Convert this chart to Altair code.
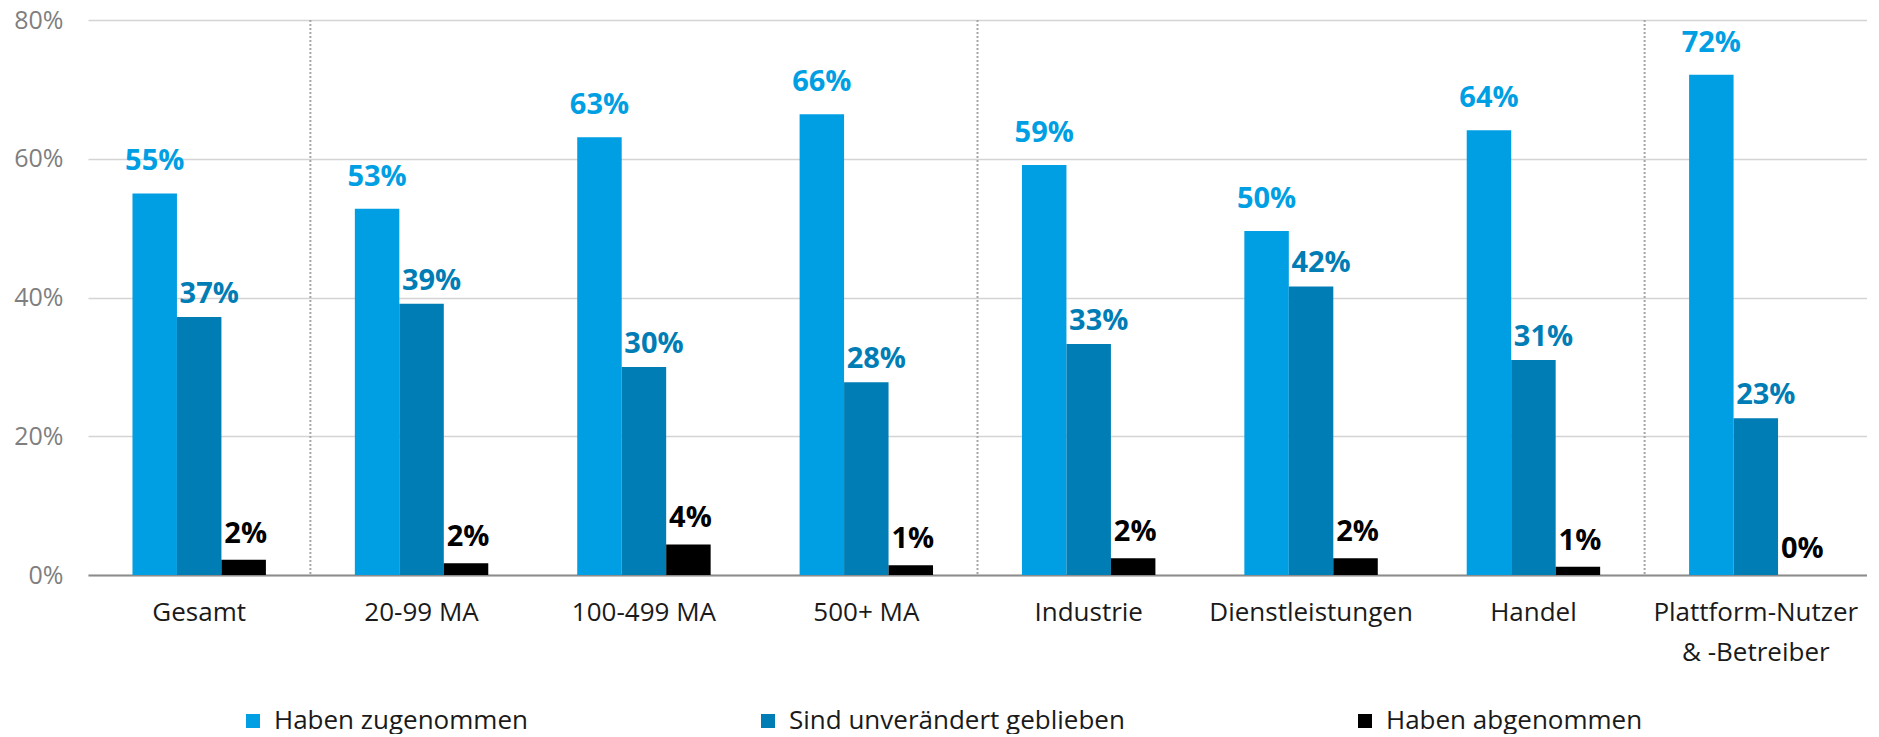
import altair as alt
import pandas as pd

categories = ["Gesamt", "20-99 MA", "100-499 MA", "500+ MA", "Industrie",
              "Dienstleistungen", "Handel", "Plattform-Nutzer\n& -Betreiber"]
series = ["Haben zugenommen", "Sind unverändert geblieben", "Haben abgenommen"]
zugenommen = [55.0, 52.8, 63.1, 66.4, 59.1, 49.6, 64.1, 72.1]
unveraendert = [37.2, 39.1, 30.0, 27.8, 33.3, 41.6, 31.0, 22.6]
abgenommen = [2.2, 1.7, 4.4, 1.4, 2.4, 2.4, 1.2, 0.0]
separators = ["20-99 MA", "Industrie", "Plattform-Nutzer\n& -Betreiber"]
colors = ["#009FE3", "#007DB5", "#000000"]
y_ticks = [0, 0.2, 0.4, 0.6, 0.8]

rows = []
for s, vals in zip(series, [zugenommen, unveraendert, abgenommen]):
    for c, v in zip(categories, vals):
        rows.append({"cat": c, "series": s, "value": v / 100})
df = pd.DataFrame(rows)
sep_df = pd.DataFrame({"cat": separators})

FONT = "Open Sans"

x_enc = alt.X("cat:N", sort=categories, title=None,
              scale=alt.Scale(paddingInner=0, paddingOuter=0),
              axis=alt.Axis(labelAngle=0, labelFontSize=26, labelColor="#1a1a1a",
                            labelFont=FONT, ticks=False, domainColor="#8c8c8c",
                            domainWidth=2, labelPadding=24, labelLineHeight=40,
                            bandPosition=0.5,
                            labelExpr="split(datum.label, '\\n')", labelLimit=400))
xoff = alt.XOffset("series:N", sort=series,
                   scale=alt.Scale(paddingOuter=1, paddingInner=0))
y_enc = alt.Y("value:Q", title=None,
              scale=alt.Scale(domain=[0, 0.8], nice=False),
              axis=alt.Axis(values=y_ticks, format=".0%", labelFontSize=25,
                            labelColor="#7f7f7f", labelFont=FONT, ticks=False,
                            domain=False, gridColor="#d4d4d4", gridWidth=1.5,
                            labelPadding=25))
color_enc = alt.Color("series:N", sort=series,
                      scale=alt.Scale(domain=series, range=colors),
                      legend=alt.Legend(title=None, orient="none", direction="horizontal",
                                        legendX=152, legendY=688, columns=3,
                                        columnPadding=227, symbolType="square",
                                        symbolSize=196, symbolStrokeWidth=0,
                                        symbolOpacity=1, labelFontSize=26,
                                        labelFont=FONT, labelColor="#1a1a1a",
                                        labelOffset=8, labelLimit=500))

bars = alt.Chart(df).mark_bar(opacity=1).encode(x=x_enc, xOffset=xoff, y=y_enc, color=color_enc)

seps = alt.Chart(sep_df).mark_rule(color="#a6a6a6", strokeDash=[2, 2], strokeWidth=2).encode(
    x=alt.X("cat:N", sort=categories, bandPosition=0),
    y=alt.value(0), y2=alt.value(555))

label_layers = []
for s, dy, dx in zip(series, [-17, -8, -11], [0, 10, 2]):
    t = alt.Chart(df).transform_filter(alt.datum.series == s).mark_text(
        font=FONT, fontWeight="bold", fontSize=29, baseline="bottom", dy=dy, dx=dx
    ).encode(x=alt.X("cat:N", sort=categories), xOffset=xoff,
             y=alt.Y("value:Q"),
             text=alt.Text("value:Q", format=".0%"),
             color=alt.Color("series:N", sort=series,
                             scale=alt.Scale(domain=series, range=colors), legend=None))
    label_layers.append(t)

chart = alt.layer(bars, seps, *label_layers).properties(
    width=1779, height=555, padding={"left": 5, "top": 0, "right": 0, "bottom": 0}
).configure_view(stroke=None)

chart.save("out.html", embed_options={"renderer": "svg", "actions": False})
